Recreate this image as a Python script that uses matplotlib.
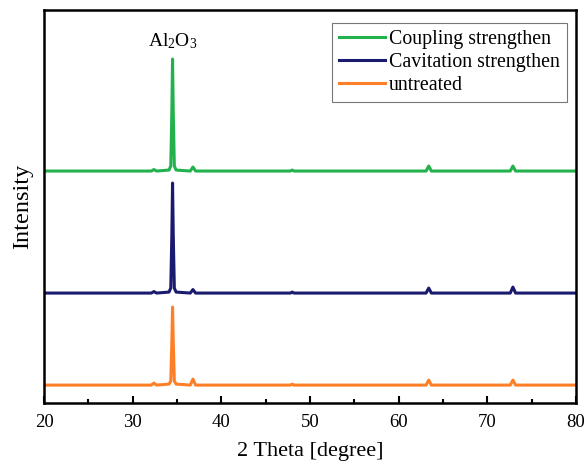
import matplotlib
matplotlib.use("Agg")
import matplotlib.pyplot as plt
from matplotlib.ticker import MultipleLocator

plt.rcParams['font.family'] = ['Liberation Serif', 'DejaVu Serif']
plt.rcParams['mathtext.fontset'] = 'custom'
plt.rcParams['mathtext.rm'] = 'Liberation Serif'
plt.rcParams['mathtext.it'] = 'Liberation Serif:italic'

# 2-theta sample points (degree)
two_theta = [20, 32.1, 32.4, 32.7, 34.1, 34.3, 34.42, 34.5, 34.58, 34.7, 34.9,
             36.5, 36.8, 37.1, 47.8, 48.0, 48.2, 63.1, 63.4, 63.7, 72.6, 72.9, 73.2, 80]

# intensity (arbitrary units, offset stacked)
coupling = [232, 232, 233.5, 232, 233, 237, 290, 344, 290, 237, 233,
            232, 236, 232, 232, 233, 232, 232, 237, 232, 232, 237, 232, 232]
cavitation = [110, 110, 111.5, 110, 111, 115, 168, 220, 168, 115, 111,
              110, 113.5, 110, 110, 111, 110, 110, 115, 110, 110, 116, 110, 110]
untreated = [18, 18, 20, 18, 19, 22, 60, 96, 60, 22, 19,
             18, 24, 18, 18, 19, 18, 18, 23, 18, 18, 23, 18, 18]

series_names = ["Coupling strengthen", "Cavitation strengthen", "untreated"]
series_colors = ["#22b14c", "#1a1a6e", "#ff7f27"]

fig = plt.figure(figsize=(5.87, 4.66), dpi=100)
ax = fig.add_axes([0.075, 0.135, 0.906, 0.8435])

for ys, name, c in zip([coupling, cavitation, untreated], series_names, series_colors):
    ax.plot(two_theta, ys, color=c, lw=2.2, label=name, solid_joinstyle='round')

ax.set_xlim(20, 80)
ax.set_ylim(0, 393)
ax.xaxis.set_major_locator(MultipleLocator(10))
ax.xaxis.set_minor_locator(MultipleLocator(5))
ax.tick_params(axis='x', which='major', direction='in', length=5, width=1.5, labelsize=13.5, pad=8)
ax.tick_params(axis='x', which='minor', direction='in', length=3, width=1.5)
ax.set_yticks([])
for s in ax.spines.values():
    s.set_linewidth(1.8)

ax.set_xlabel("2 Theta [degree]", fontsize=16, labelpad=8)
ax.set_ylabel("Intensity", fontsize=17.5, labelpad=8)

ax.text(34.55, 352, r"Al$_2$O$_3$", ha='center', va='bottom', fontsize=14)

leg = ax.legend(loc='upper right', fontsize=14.3, handlelength=2.3, frameon=True,
                fancybox=False, edgecolor='#555555', borderpad=0.35, labelspacing=0.2,
                handletextpad=0.2, borderaxespad=0.0, bbox_to_anchor=(0.983, 0.967))
leg.get_frame().set_linewidth(0.8)

fig.savefig("out.png", dpi=100)
